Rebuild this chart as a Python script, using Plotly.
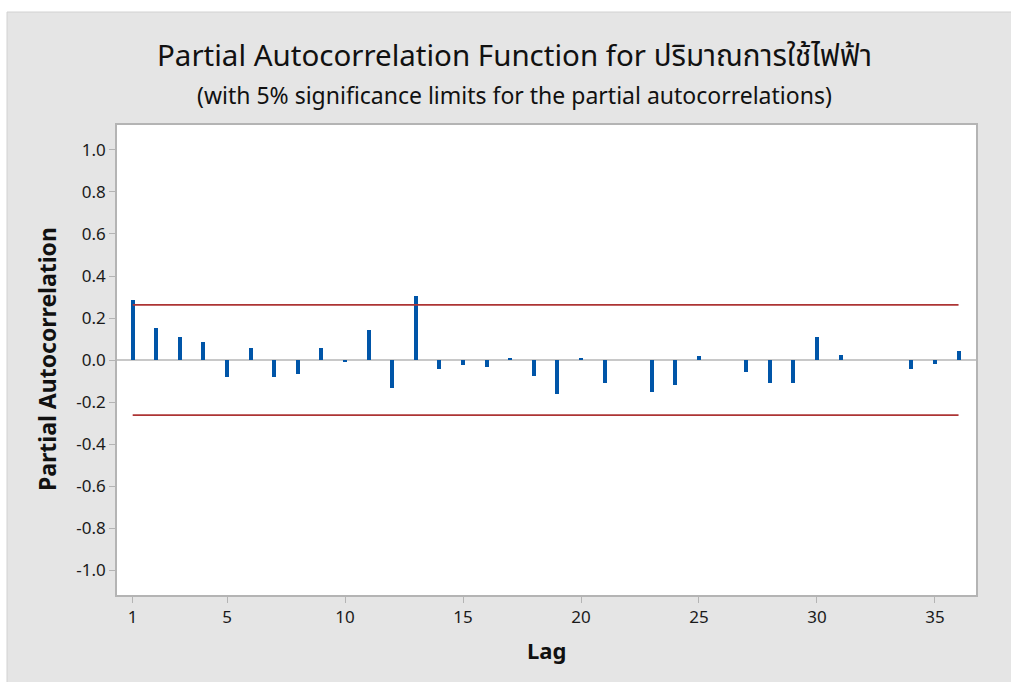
import plotly.graph_objects as go

lags = list(range(1, 37))
pacf = [0.286, 0.151, 0.108, 0.084, -0.083, 0.059, -0.083, -0.067, 0.059, -0.008,
        0.143, -0.133, 0.305, -0.041, -0.025, -0.033, 0.010, -0.076, -0.160, 0.010,
        -0.110, 0.0, -0.152, -0.117, 0.017, 0.0, -0.059, -0.110, -0.110, 0.110,
        0.025, 0.0, 0.0, -0.043, -0.017, 0.043]
sig_limit = 0.2626
y_ticks = [-1.0, -0.8, -0.6, -0.4, -0.2, 0.0, 0.2, 0.4, 0.6, 0.8, 1.0]
y_ticktext = [f"{v:.1f}" for v in y_ticks]
x_ticks = [1, 5, 10, 15, 20, 25, 30, 35]

FONT = "Segoe UI, Noto Sans, Noto Sans Thai, Open Sans, sans-serif"

fig = go.Figure()
fig.add_trace(go.Bar(x=lags, y=pacf, base=0, width=0.17,
                     marker=dict(color="#0055a8", line=dict(width=0)),
                     showlegend=False))
for s in (1, -1):
    fig.add_trace(go.Scatter(x=[lags[0], lags[-1]], y=[s * sig_limit] * 2, mode="lines",
                             line=dict(color="#ad3434", width=1.6), showlegend=False,
                             hoverinfo="skip"))

W, H = 1011, 682
ml, mr, mt, mb = 117, 35, 125, 87
pw, ph = W - ml - mr, H - mt - mb

def px_x(p):
    return (p - ml) / pw

def px_y(p):
    return 1 - (p - mt) / ph

shapes = [
    dict(type="rect", xref="paper", yref="paper", x0=px_x(0), x1=px_x(W), y0=px_y(12), y1=px_y(0),
         fillcolor="white", line=dict(width=0), layer="below"),
    dict(type="rect", xref="paper", yref="paper", x0=px_x(0), x1=px_x(7), y0=px_y(H), y1=px_y(0),
         fillcolor="white", line=dict(width=0), layer="below"),
    dict(type="line", xref="paper", yref="paper", x0=px_x(7), x1=px_x(W), y0=px_y(12), y1=px_y(12),
         line=dict(color="#d2d2d2", width=1)),
    dict(type="line", xref="paper", yref="paper", x0=px_x(7), x1=px_x(7), y0=px_y(12), y1=px_y(H),
         line=dict(color="#d2d2d2", width=1)),
]

fig.update_layout(
    width=W, height=H,
    margin=dict(l=ml, r=mr, t=mt, b=mb, autoexpand=False),
    paper_bgcolor="#e5e5e5", plot_bgcolor="white",
    font=dict(family=FONT, color="#1a1a1a", size=17),
    shapes=shapes,
    bargap=0,
    annotations=[
        dict(text="Partial Autocorrelation Function for ปริมาณการใช้ไฟฟ้า", xref="paper", yref="paper",
             x=px_x(514), y=px_y(55), xanchor="center", yanchor="middle", showarrow=False,
             font=dict(size=29.5, color="#111111", family=FONT)),
        dict(text="(with 5% significance limits for the partial autocorrelations)", xref="paper", yref="paper",
             x=px_x(514), y=px_y(95), xanchor="center", yanchor="middle", showarrow=False,
             font=dict(size=23, color="#111111", family=FONT)),
        dict(text="<b>Partial Autocorrelation</b>", xref="paper", yref="paper", textangle=-90,
             x=px_x(47), y=px_y(359), xanchor="center", yanchor="middle", showarrow=False,
             font=dict(size=23, color="#111111", family=FONT)),
        dict(text="<b>Lag</b>", xref="paper", yref="paper",
             x=px_x(546), y=px_y(650), xanchor="center", yanchor="middle", showarrow=False,
             font=dict(size=22, color="#111111", family=FONT)),
    ],
)
fig.update_xaxes(range=[0.335, 36.74], tickvals=x_ticks, ticks="outside", ticklen=6,
                 tickcolor="#b4b4b4", showline=True, linecolor="#b4b4b4", linewidth=1.5,
                 mirror=True, showgrid=False, zeroline=False, tickfont=dict(size=17))
fig.update_yaxes(range=[-1.119, 1.119], tickvals=y_ticks, ticktext=y_ticktext, ticks="outside", ticklen=6,
                 tickcolor="#b4b4b4", showline=True, linecolor="#b4b4b4", linewidth=1.5,
                 mirror=True, showgrid=False, zeroline=True, zerolinecolor="#c8c8c8",
                 zerolinewidth=2, tickfont=dict(size=17))

fig.write_html("out.html", config={"displayModeBar": False},
               post_script="document.body.style.margin='0';document.body.style.overflow='hidden';")
